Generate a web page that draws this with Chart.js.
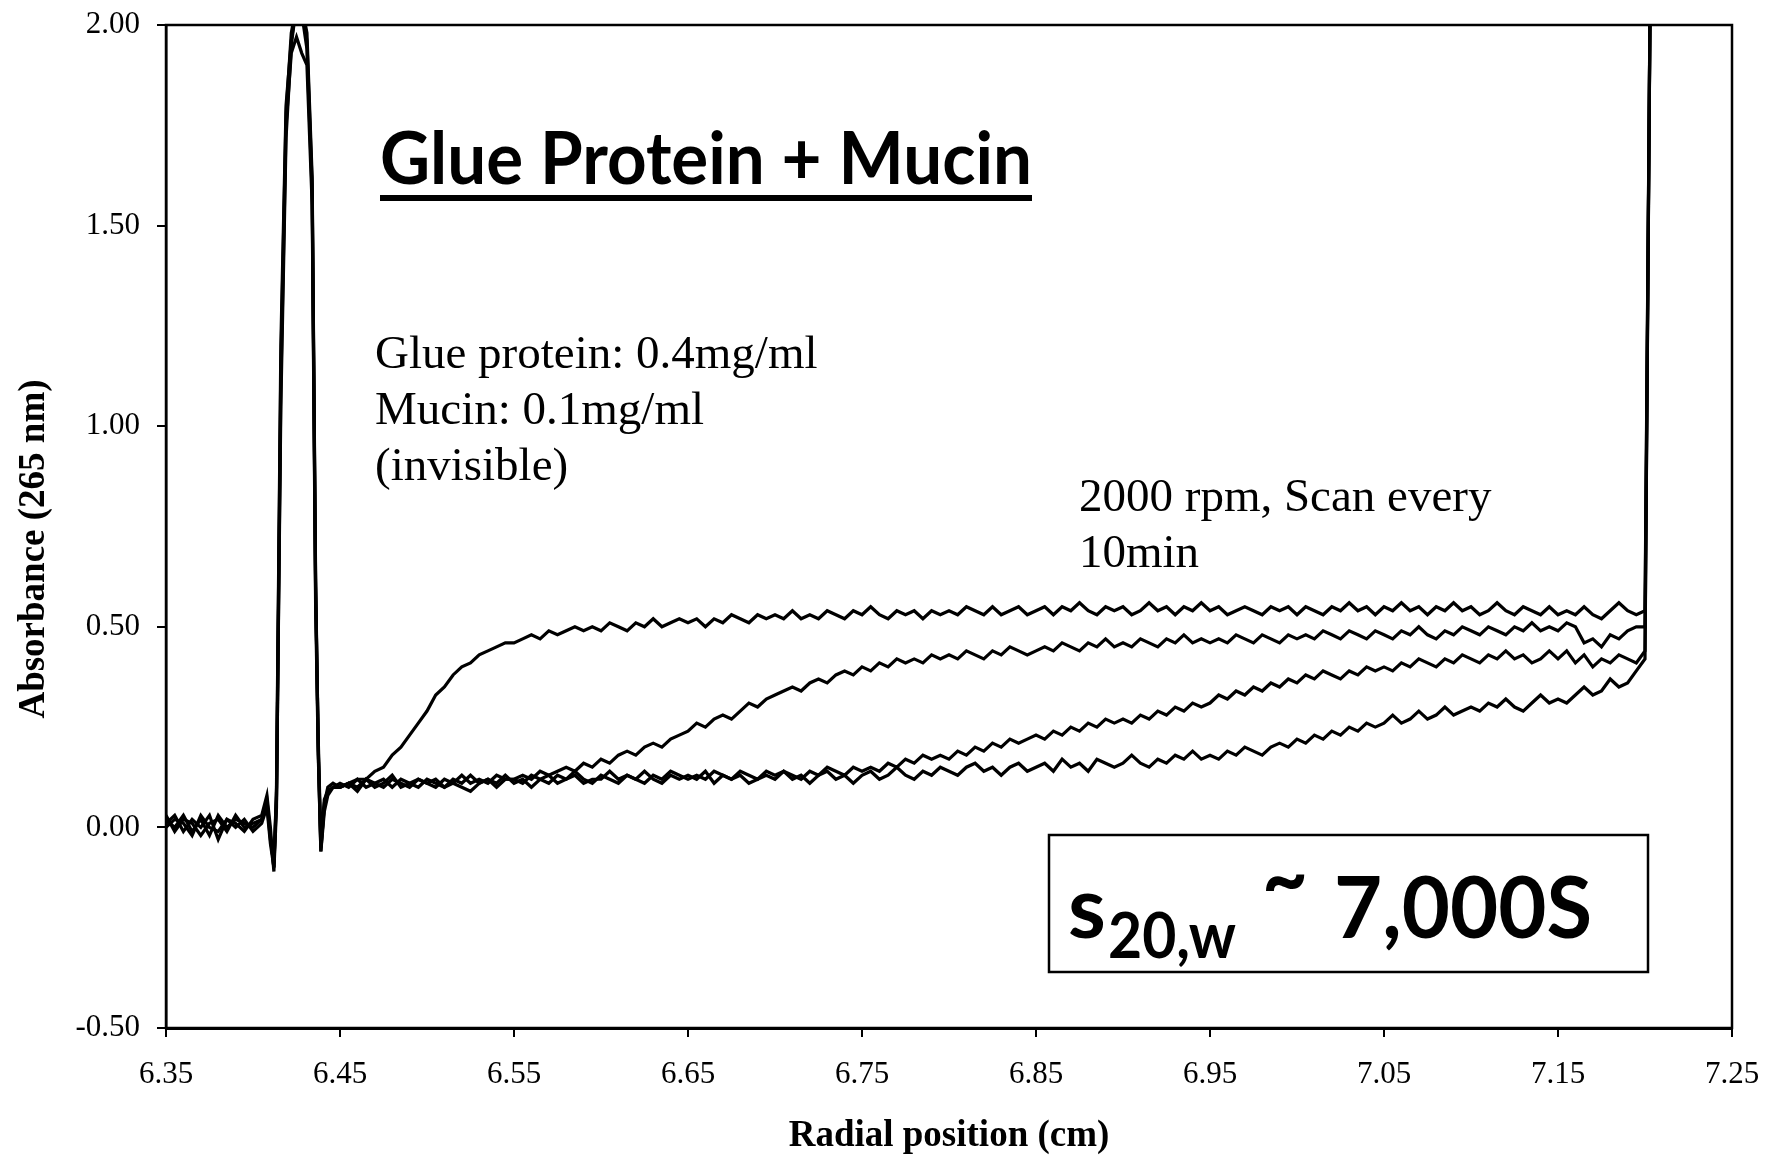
<!DOCTYPE html>
<html>
<head>
<meta charset="utf-8">
<title>Glue Protein + Mucin</title>
<script src="https://cdn.jsdelivr.net/npm/chart.js@4.4.1/dist/chart.umd.min.js"></script>
<style>
  html, body { margin: 0; padding: 0; background: #fff; }
  canvas { display: block; }
</style>
</head>
<body>
<canvas id="scans" width="1767" height="1158"></canvas>
<script>
// Radial positions (cm) of the absorbance scans: the baseline and meniscus
// spikes on the left, the solution column sampled every 0.005 cm, then the cell bottom.
const radius = [
  6.350, 6.355, 6.360, 6.365, 6.370, 6.375, 6.380, 6.385, 6.390, 6.395,
  6.400, 6.405, 6.408, 6.410, 6.412, 6.4135, 6.416, 6.419, 6.422, 6.425,
  6.428, 6.431, 6.434, 6.436, 6.4375, 6.439, 6.441, 6.443, 6.446,
  6.450, 6.455, 6.460, 6.465, 6.470, 6.475, 6.480, 6.485, 6.490, 6.495,
  6.500, 6.505, 6.510, 6.515, 6.520, 6.525, 6.530, 6.535, 6.540, 6.545,
  6.550, 6.555, 6.560, 6.565, 6.570, 6.575, 6.580, 6.585, 6.590, 6.595,
  6.600, 6.605, 6.610, 6.615, 6.620, 6.625, 6.630, 6.635, 6.640, 6.645,
  6.650, 6.655, 6.660, 6.665, 6.670, 6.675, 6.680, 6.685, 6.690, 6.695,
  6.700, 6.705, 6.710, 6.715, 6.720, 6.725, 6.730, 6.735, 6.740, 6.745,
  6.750, 6.755, 6.760, 6.765, 6.770, 6.775, 6.780, 6.785, 6.790, 6.795,
  6.800, 6.805, 6.810, 6.815, 6.820, 6.825, 6.830, 6.835, 6.840, 6.845,
  6.850, 6.855, 6.860, 6.865, 6.870, 6.875, 6.880, 6.885, 6.890, 6.895,
  6.900, 6.905, 6.910, 6.915, 6.920, 6.925, 6.930, 6.935, 6.940, 6.945,
  6.950, 6.955, 6.960, 6.965, 6.970, 6.975, 6.980, 6.985, 6.990, 6.995,
  7.000, 7.005, 7.010, 7.015, 7.020, 7.025, 7.030, 7.035, 7.040, 7.045,
  7.050, 7.055, 7.060, 7.065, 7.070, 7.075, 7.080, 7.085, 7.090, 7.095,
  7.100, 7.105, 7.110, 7.115, 7.120, 7.125, 7.130, 7.135, 7.140, 7.145,
  7.150, 7.155, 7.160, 7.165, 7.170, 7.175, 7.180, 7.185, 7.190, 7.195,
  7.200, 7.203
]

// Absorbance at 265 nm, one array per scan (10 min apart)
const scan1 = [
  0.02, 0.00, 0.03, -0.01, 0.02, -0.02, 0.03, 0.00, 0.02, 0.01,
  0.00, 0.02, 0.07, -0.02, -0.10, 0.10, 1.20, 1.80, 1.96, 2.05,
  2.05, 1.96, 1.60, 0.60, 0.20, -0.05, 0.05, 0.09, 0.10,
  0.10, 0.11, 0.12, 0.12, 0.14, 0.15, 0.18, 0.20, 0.23, 0.26,
  0.29, 0.33, 0.35, 0.38, 0.40, 0.41, 0.43, 0.44, 0.45, 0.46,
  0.46, 0.47, 0.48, 0.47, 0.49, 0.48, 0.49, 0.50, 0.49, 0.50,
  0.49, 0.51, 0.50, 0.49, 0.51, 0.50, 0.52, 0.50, 0.51, 0.52,
  0.51, 0.52, 0.50, 0.52, 0.51, 0.53, 0.52, 0.51, 0.53, 0.52,
  0.53, 0.52, 0.54, 0.52, 0.53, 0.52, 0.54, 0.53, 0.52, 0.54,
  0.53, 0.55, 0.53, 0.52, 0.54, 0.53, 0.54, 0.52, 0.54, 0.53,
  0.54, 0.53, 0.55, 0.54, 0.53, 0.55, 0.53, 0.54, 0.55, 0.53,
  0.54, 0.55, 0.53, 0.55, 0.54, 0.56, 0.54, 0.53, 0.55, 0.54,
  0.55, 0.53, 0.54, 0.56, 0.54, 0.55, 0.53, 0.55, 0.54, 0.56,
  0.54, 0.55, 0.53, 0.54, 0.55, 0.54, 0.53, 0.55, 0.54, 0.55,
  0.53, 0.55, 0.54, 0.53, 0.55, 0.54, 0.56, 0.54, 0.55, 0.53,
  0.55, 0.54, 0.56, 0.54, 0.55, 0.53, 0.55, 0.54, 0.56, 0.54,
  0.55, 0.53, 0.54, 0.56, 0.54, 0.53, 0.55, 0.54, 0.53, 0.55,
  0.53, 0.54, 0.53, 0.55, 0.53, 0.52, 0.54, 0.56, 0.54, 0.53,
  0.54, 2.10
]

const scan2 = [
  0.01, 0.03, -0.01, 0.02, 0.00, 0.03, -0.03, 0.02, 0.01, -0.01,
  0.02, 0.03, 0.08, 0.00, -0.11, 0.05, 1.10, 1.75, 1.93, 1.97,
  1.93, 1.90, 1.55, 0.55, 0.18, -0.06, 0.06, 0.10, 0.11,
  0.10, 0.11, 0.10, 0.12, 0.11, 0.10, 0.12, 0.11, 0.10, 0.12,
  0.11, 0.12, 0.10, 0.11, 0.13, 0.11, 0.12, 0.11, 0.13, 0.12,
  0.12, 0.13, 0.12, 0.14, 0.13, 0.14, 0.15, 0.14, 0.16, 0.15,
  0.17, 0.16, 0.18, 0.19, 0.18, 0.20, 0.21, 0.20, 0.22, 0.23,
  0.24, 0.26, 0.25, 0.27, 0.28, 0.27, 0.29, 0.31, 0.30, 0.32,
  0.33, 0.34, 0.35, 0.34, 0.36, 0.37, 0.36, 0.38, 0.39, 0.38,
  0.40, 0.39, 0.41, 0.40, 0.42, 0.41, 0.42, 0.41, 0.43, 0.42,
  0.43, 0.42, 0.44, 0.43, 0.42, 0.44, 0.43, 0.45, 0.44, 0.43,
  0.44, 0.45, 0.44, 0.46, 0.45, 0.44, 0.46, 0.45, 0.47, 0.45,
  0.46, 0.45, 0.47, 0.46, 0.45, 0.47, 0.46, 0.48, 0.46, 0.47,
  0.46, 0.47, 0.46, 0.48, 0.47, 0.46, 0.48, 0.47, 0.46, 0.48,
  0.47, 0.48, 0.47, 0.49, 0.48, 0.47, 0.49, 0.48, 0.47, 0.49,
  0.48, 0.47, 0.49, 0.48, 0.50, 0.48, 0.47, 0.49, 0.48, 0.50,
  0.49, 0.48, 0.50, 0.49, 0.48, 0.50, 0.49, 0.51, 0.49, 0.50,
  0.49, 0.51, 0.50, 0.46, 0.47, 0.45, 0.48, 0.47, 0.49, 0.50,
  0.50, 2.10
]

const scan3 = [
  0.03, -0.01, 0.02, 0.01, -0.02, 0.01, 0.02, -0.01, 0.03, 0.00,
  0.01, 0.02, 0.06, -0.03, -0.09, 0.08, 1.15, 1.78, 1.98, 2.05,
  2.03, 1.94, 1.58, 0.58, 0.22, -0.04, 0.07, 0.09, 0.10,
  0.11, 0.10, 0.12, 0.10, 0.11, 0.12, 0.10, 0.12, 0.11, 0.10,
  0.12, 0.11, 0.10, 0.12, 0.11, 0.13, 0.11, 0.12, 0.10, 0.12,
  0.12, 0.11, 0.13, 0.12, 0.11, 0.13, 0.12, 0.13, 0.11, 0.12,
  0.12, 0.14, 0.12, 0.13, 0.12, 0.11, 0.13, 0.12, 0.14, 0.13,
  0.12, 0.13, 0.12, 0.14, 0.13, 0.12, 0.14, 0.13, 0.12, 0.14,
  0.13, 0.14, 0.13, 0.12, 0.14, 0.13, 0.15, 0.14, 0.13, 0.15,
  0.14, 0.15, 0.14, 0.16, 0.15, 0.17, 0.16, 0.18, 0.17, 0.18,
  0.17, 0.19, 0.18, 0.20, 0.19, 0.21, 0.20, 0.22, 0.21, 0.22,
  0.23, 0.22, 0.24, 0.23, 0.25, 0.24, 0.26, 0.25, 0.27, 0.26,
  0.27, 0.26, 0.28, 0.27, 0.29, 0.28, 0.30, 0.29, 0.31, 0.30,
  0.31, 0.33, 0.32, 0.34, 0.33, 0.35, 0.34, 0.36, 0.35, 0.37,
  0.36, 0.38, 0.37, 0.39, 0.38, 0.37, 0.39, 0.38, 0.40, 0.39,
  0.40, 0.39, 0.41, 0.40, 0.42, 0.41, 0.40, 0.42, 0.41, 0.43,
  0.42, 0.41, 0.43, 0.42, 0.44, 0.42, 0.43, 0.41, 0.42, 0.44,
  0.42, 0.44, 0.41, 0.43, 0.40, 0.42, 0.41, 0.43, 0.42, 0.41,
  0.44, 2.10
]

const scan4 = [
  0.00, 0.02, 0.01, -0.02, 0.03, 0.00, -0.01, 0.02, 0.00, 0.02,
  -0.01, 0.01, 0.05, -0.04, -0.10, 0.07, 1.05, 1.72, 1.95, 2.05,
  2.05, 1.98, 1.62, 0.62, 0.19, -0.06, 0.04, 0.08, 0.10,
  0.10, 0.11, 0.09, 0.12, 0.10, 0.11, 0.13, 0.10, 0.11, 0.12,
  0.11, 0.10, 0.12, 0.11, 0.10, 0.09, 0.11, 0.12, 0.11, 0.13,
  0.11, 0.12, 0.10, 0.12, 0.13, 0.11, 0.12, 0.14, 0.12, 0.11,
  0.13, 0.12, 0.11, 0.13, 0.12, 0.14, 0.12, 0.11, 0.13, 0.12,
  0.13, 0.12, 0.14, 0.11, 0.13, 0.12, 0.13, 0.11, 0.12, 0.13,
  0.12, 0.14, 0.12, 0.13, 0.11, 0.13, 0.14, 0.12, 0.13, 0.11,
  0.13, 0.14, 0.12, 0.13, 0.15, 0.13, 0.12, 0.14, 0.13, 0.15,
  0.14, 0.13, 0.15, 0.16, 0.14, 0.15, 0.13, 0.15, 0.16, 0.14,
  0.15, 0.16, 0.14, 0.17, 0.15, 0.16, 0.14, 0.17, 0.16, 0.15,
  0.16, 0.18, 0.16, 0.15, 0.17, 0.16, 0.18, 0.17, 0.19, 0.17,
  0.18, 0.17, 0.19, 0.18, 0.20, 0.19, 0.18, 0.20, 0.21, 0.20,
  0.22, 0.21, 0.23, 0.22, 0.24, 0.23, 0.25, 0.24, 0.26, 0.25,
  0.26, 0.28, 0.26, 0.27, 0.29, 0.27, 0.28, 0.30, 0.28, 0.29,
  0.30, 0.29, 0.31, 0.30, 0.32, 0.30, 0.29, 0.31, 0.33, 0.31,
  0.32, 0.31, 0.33, 0.35, 0.33, 0.34, 0.37, 0.35, 0.36, 0.39,
  0.42, 2.10
]

const xTicks = [6.35, 6.45, 6.55, 6.65, 6.75, 6.85, 6.95, 7.05, 7.15, 7.25]
const yTicks = [-0.5, 0, 0.5, 1.0, 1.5, 2.0]

const SERIF = '"Liberation Serif", "Times New Roman", serif'
const SANS = 'Lato, "Open Sans", sans-serif'

// Frame, axis titles and the text notes drawn over the plot
const figureText = {
  id: "figureText",
  afterDraw(chart) {
    const { ctx, chartArea: area } = chart
    ctx.save()
    ctx.fillStyle = "#000"
    ctx.strokeStyle = "#000"

    ctx.lineWidth = 2.5
    ctx.strokeRect(area.left, area.top, area.right - area.left, area.bottom - area.top)

    // axis titles
    ctx.font = `bold 37px ${SERIF}`
    ctx.textAlign = "center"
    ctx.textBaseline = "middle"
    ctx.fillText("Radial position (cm)", (area.left + area.right) / 2, 1136)
    ctx.save()
    ctx.translate(34, 549)
    ctx.rotate(-Math.PI / 2)
    ctx.fillText("Absorbance (265 nm)", 0, 0)
    ctx.restore()

    ctx.textAlign = "left"
    ctx.textBaseline = "alphabetic"

    // underlined heading
    ctx.font = `bold 72px ${SANS}`
    ctx.fillText("Glue Protein + Mucin", 380, 184, 652)
    ctx.fillRect(380, 195, 652, 6)

    // sample and run conditions
    ctx.font = `47px ${SERIF}`
    ctx.fillText("Glue protein: 0.4mg/ml", 375, 368)
    ctx.fillText("Mucin: 0.1mg/ml", 375, 424)
    ctx.fillText("(invisible)", 375, 480)
    ctx.fillText("2000 rpm, Scan every", 1079, 511)
    ctx.fillText("10min", 1079, 567)

    // sedimentation coefficient box
    ctx.lineWidth = 2.5
    ctx.strokeRect(1049, 835, 599, 137)
    ctx.font = `bold 86px ${SANS}`
    ctx.fillText("s", 1068, 938)
    ctx.fillText("~", 1262, 908, 46)
    ctx.fillText("7,000S", 1334, 938, 258)
    ctx.font = `bold 64px ${SANS}`
    ctx.fillText("20,w", 1108, 958, 128)

    ctx.restore()
  }
}

function drawChart() {
  const datasets = [scan1, scan2, scan3, scan4].map(values => ({
    data: values.map((y, i) => ({ x: radius[i], y })),
    borderColor: "#000",
    borderWidth: 3.2,
    pointRadius: 0,
    tension: 0,
    fill: false
  }))

  const tickFont = { family: SERIF, size: 31 }

  new Chart(document.getElementById("scans"), {
    type: "line",
    data: { datasets },
    options: {
      responsive: false,
      animation: false,
      devicePixelRatio: 1,
      layout: { padding: { top: 25, right: 35, left: 0, bottom: 0 } },
      plugins: {
        legend: { display: false },
        tooltip: { enabled: false }
      },
      scales: {
        x: {
          type: "linear",
          min: 6.35,
          max: 7.25,
          afterBuildTicks: scale => { scale.ticks = xTicks.map(value => ({ value })) },
          afterFit: scale => {
            scale.height = 130
            scale.paddingLeft = 0
            scale.paddingRight = 0
          },
          ticks: {
            callback: v => v.toFixed(2),
            font: tickFont,
            color: "#000",
            padding: 19,
            maxRotation: 0,
            autoSkip: false
          },
          grid: { drawOnChartArea: false, tickLength: 9, color: "#000", lineWidth: 2 },
          border: { display: true, color: "#000", width: 3 }
        },
        y: {
          type: "linear",
          min: -0.5,
          max: 2.0,
          afterBuildTicks: scale => { scale.ticks = yTicks.map(value => ({ value })) },
          afterFit: scale => {
            scale.width = 166
            scale.paddingTop = 0
            scale.paddingBottom = 0
          },
          ticks: {
            callback: v => v.toFixed(2),
            font: tickFont,
            color: "#000",
            padding: 17,
            autoSkip: false
          },
          grid: { drawOnChartArea: false, tickLength: 9, color: "#000", lineWidth: 2 },
          border: { display: true, color: "#000", width: 2.5 }
        }
      }
    },
    plugins: [figureText]
  })
}

Promise.all([
  document.fonts.load(`bold 72px ${SANS}`),
  document.fonts.load(`31px ${SERIF}`),
  document.fonts.load(`bold 37px ${SERIF}`)
]).then(drawChart, drawChart)
</script>
</body>
</html>
